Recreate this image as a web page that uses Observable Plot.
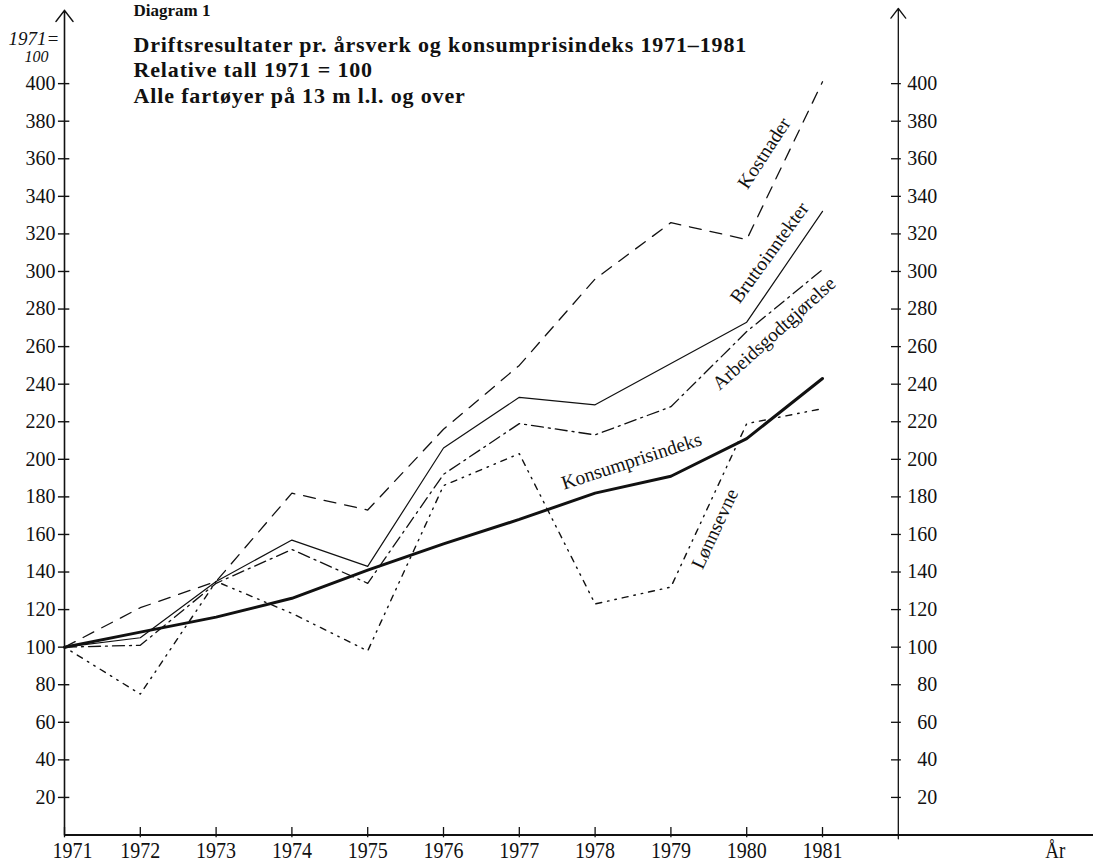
<!DOCTYPE html>
<html>
<head>
<meta charset="utf-8">
<script src="https://cdn.jsdelivr.net/npm/d3@7"></script>
<script src="https://cdn.jsdelivr.net/npm/@observablehq/plot@0.6"></script>
<style>
  html, body { margin: 0; padding: 0; background: #fff; }
  #chart { width: 1093px; height: 865px; }
</style>
</head>
<body>
<div id="chart"></div>
<script>
// ---- Data ----
const years = [1971, 1972, 1973, 1974, 1975, 1976, 1977, 1978, 1979, 1980, 1981];
const kostnader        = [100, 121, 135, 182, 173, 216, 250, 296, 326, 317, 401];
const bruttoinntekter  = [100, 105, 135, 157, 143, 206, 233, 229, 251, 273, 332];
const arbeidsgodtgj    = [100, 101, 134, 152, 134, 192, 219, 213, 228, 268, 301];
const lonnsevne        = [100,  75, 135, 118,  98, 186, 203, 123, 132, 219, 227];
const konsumprisindeks = [100, 108, 116, 126, 141, 155, 168, 182, 191, 211, 243];

const seriesNames = ["Kostnader", "Bruttoinntekter", "Arbeidsgodtgjørelse", "Lønnsevne", "Konsumprisindeks"];
const seriesValues = [kostnader, bruttoinntekter, arbeidsgodtgj, lonnsevne, konsumprisindeks];

const yTicks = [20, 40, 60, 80, 100, 120, 140, 160, 180, 200, 220, 240, 260, 280, 300, 320, 340, 360, 380, 400];
const yearLabels = years.map(String);
const xAxisTitle = "År";
const titleLines = [
  "Driftsresultater pr. årsverk og konsumprisindeks 1971–1981",
  "Relative tall 1971 = 100",
  "Alle fartøyer på 13 m l.l. og over"
];
const diagramLabel = "Diagram 1";
const handNote = ["1971=", "100"];

// ---- Styles / layout (kept apart from the data) ----
const lineStyles = {
  "Kostnader":           {width: 1.3, dash: "12 9"},
  "Bruttoinntekter":     {width: 1.2, dash: null},
  "Arbeidsgodtgjørelse": {width: 1.3, dash: "12 5 2 5"},
  "Lønnsevne":           {width: 1.4, dash: "1.5 6 1.5 6 6 6"},
  "Konsumprisindeks":    {width: 3.0, dash: null}
};
// label placement in data coordinates (year, value) and rotation
const labelPlace = {
  "Kostnader":           {x: 1980.23, y: 363, rotate: -57},
  "Bruttoinntekter":     {x: 1980.30, y: 310, rotate: -54},
  "Arbeidsgodtgjørelse": {x: 1980.36, y: 267, rotate: -42},
  "Konsumprisindeks":    {x: 1978.48, y: 199, rotate: -18},
  "Lønnsevne":           {x: 1979.58, y: 163, rotate: -65}
};

const xMin = 1971, xRightAxis = 1982, xMax = 1984.575;
const serif = "'Liberation Serif', 'Times New Roman', serif";

const rows = seriesNames.map((name, s) =>
  years.map((yr, i) => ({series: name, year: yr, value: seriesValues[s][i]}))
);

const lineMarks = rows.map(r => {
  const st = lineStyles[r[0].series];
  return Plot.line(r, {
    x: "year", y: "value", stroke: "#111",
    strokeWidth: st.width,
    strokeDasharray: st.dash || undefined,
    strokeLinecap: "round", strokeLinejoin: "round"
  });
});

const labelMarks = seriesNames.map(name => {
  const p = labelPlace[name];
  return Plot.text([name], {
    x: () => p.x, y: () => p.y, text: d => d,
    rotate: p.rotate, fontSize: 19.5, fill: "#111", textAnchor: "middle"
  });
});

const titleMarks = titleLines.map((line, i) =>
  Plot.text([line], {frameAnchor: "top-left", text: d => d, dx: 69, dy: 43 + i * 25.5,
    lineAnchor: "bottom", textAnchor: "start", fontSize: 22, fontWeight: "bold", fill: "#111",
    className: "ttl"})
);

const chart = Plot.plot({
  width: 1093,
  height: 865,
  marginLeft: 64,
  marginRight: 0,
  marginTop: 8,
  marginBottom: 30.5,
  x: {domain: [xMin, xMax], axis: null},
  y: {domain: [0, 440], axis: null},
  style: {fontFamily: serif, background: "#fff", color: "#111", overflow: "visible"},
  marks: [
    // x axis line (full width)
    Plot.ruleY([0], {x1: xMin, x2: xMax, stroke: "#111", strokeWidth: 1.8}),
    // left and right vertical axes with open arrowheads
    Plot.arrow([xMin], {x1: d => d, x2: d => d, y1: () => 0, y2: () => 439,
      stroke: "#111", strokeWidth: 1.6, headLength: 13, headAngle: 75}),
    Plot.arrow([xRightAxis], {x1: d => d, x2: d => d, y1: () => -2, y2: () => 440,
      stroke: "#111", strokeWidth: 1.3, headLength: 14, headAngle: 75}),
    // crossing tick marks
    Plot.ruleY(yTicks, {y: d => d, x1: () => xMin - 0.08, x2: () => xMin + 0.07, stroke: "#111", strokeWidth: 1.4}),
    Plot.ruleY(yTicks, {y: d => d, x1: () => xRightAxis - 0.09, x2: () => xRightAxis + 0.04, stroke: "#111", strokeWidth: 1.3}),
    Plot.ruleX(years, {x: d => d, y1: () => -1.5, y2: () => 4, stroke: "#111", strokeWidth: 1.3}),
    // tick labels
    Plot.text(yTicks, {x: () => xMin, y: d => d, text: d => String(d), textAnchor: "end", dx: -9, fontSize: 20, fill: "#111"}),
    Plot.text(yTicks, {x: () => xRightAxis, y: d => d, text: d => String(d), textAnchor: "end", dx: 39, fontSize: 20, fill: "#111"}),
    Plot.text(years.slice(0, 1), {x: d => d, y: () => 0, text: (d, i) => yearLabels[i], dx: 8, dy: 22.5,
      lineAnchor: "bottom", fontSize: 23, fill: "#111", className: "xlab"}),
    Plot.text(years.slice(1), {x: d => d, y: () => 0, text: (d, i) => yearLabels[i + 1], dy: 22.5,
      lineAnchor: "bottom", fontSize: 23, fill: "#111", className: "xlab"}),
    Plot.text([xAxisTitle], {x: () => 1984.07, y: () => 0, text: d => d, dy: 22.5,
      lineAnchor: "bottom", fontSize: 23, fill: "#111", className: "xtitle"}),
    // series lines
    ...lineMarks,
    // in-chart labels
    ...labelMarks,
    // title block
    ...titleMarks,
    Plot.text([diagramLabel], {frameAnchor: "top-left", text: d => d, dx: 69, dy: 7,
      lineAnchor: "bottom", textAnchor: "start", fontSize: 17, fontWeight: "bold", fill: "#111"}),
    // handwritten note
    Plot.text([handNote[0]], {frameAnchor: "top-left", text: d => d, dx: -56, dy: 36,
      lineAnchor: "bottom", textAnchor: "start", fontSize: 19, fontStyle: "italic", fill: "#111"}),
    Plot.text([handNote[1]], {frameAnchor: "top-left", text: d => d, dx: -40, dy: 53,
      lineAnchor: "bottom", textAnchor: "start", fontSize: 16, fontStyle: "italic", fill: "#111"})
  ]
});

// typographic touches matching the printed original
d3.select(chart).selectAll(".xlab text")
  .attr("textLength", 40).attr("lengthAdjust", "spacingAndGlyphs");
d3.select(chart).selectAll(".xtitle text")
  .attr("textLength", 20).attr("lengthAdjust", "spacingAndGlyphs");
d3.select(chart).selectAll(".ttl text").attr("letter-spacing", 0.85);

document.getElementById("chart").appendChild(chart);
</script>
</body>
</html>
